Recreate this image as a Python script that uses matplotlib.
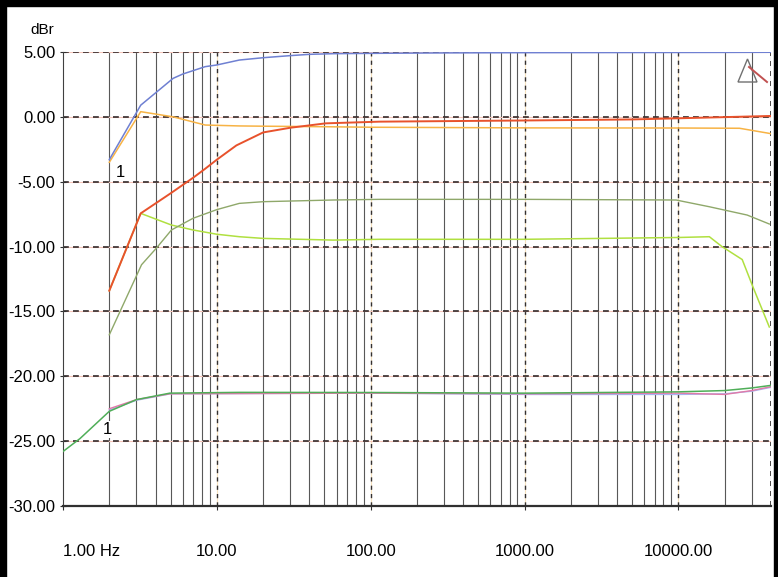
import matplotlib
matplotlib.use("Agg")
import matplotlib.pyplot as plt
from matplotlib.patches import Rectangle, Polygon
from matplotlib.lines import Line2D

plt.rcParams['font.family'] = ['Liberation Sans', 'DejaVu Sans']

# ---- data ----
blue_f = [2, 3.2, 5.2, 6, 8.4, 10, 14, 20, 30, 40, 57, 114, 300, 1000, 5000, 20000, 40000]
blue_db = [-3.3, 0.9, 2.97, 3.3, 3.87, 4.0, 4.38, 4.56, 4.72, 4.82, 4.87, 4.9, 4.93, 4.95, 4.96, 4.97, 4.98]

yellow_f = [2, 3.2, 5.2, 8.4, 14, 20, 50, 100, 1000, 10000, 25000, 38000, 40000]
yellow_db = [-3.5, 0.4, 0.0, -0.63, -0.7, -0.72, -0.76, -0.8, -0.85, -0.86, -0.88, -1.25, -1.3]

red_f = [2, 3.2, 5, 7, 8.4, 10, 13.4, 20, 30, 51, 114, 1000, 5000, 10000, 20000, 40000]
red_db = [-13.4, -7.44, -5.9, -4.7, -4.0, -3.3, -2.2, -1.2, -0.84, -0.5, -0.37, -0.28, -0.2, -0.11, -0.02, 0.07]

lgreen_f = [2, 3.2, 5.07, 7, 10, 14, 20, 57, 114, 1000, 10000, 15900, 19200, 26000, 30500, 39000]
lgreen_db = [-13.4, -7.44, -8.34, -8.72, -9.05, -9.24, -9.37, -9.5, -9.44, -9.44, -9.3, -9.24, -10.0, -11.0, -13.1, -16.2]

olive_f = [2, 3.24, 4.06, 5.07, 7, 10, 14, 20, 57, 114, 1000, 9660, 15900, 28000, 39000]
olive_db = [-16.8, -11.4, -10.1, -8.72, -7.82, -7.15, -6.67, -6.54, -6.41, -6.36, -6.36, -6.41, -6.93, -7.57, -8.26]

bgreen_f = [1, 1.29, 2, 3, 4.95, 14, 100, 1000, 10000, 20000, 30000, 40000]
bgreen_db = [-25.8, -24.8, -22.7, -21.8, -21.3, -21.24, -21.25, -21.3, -21.2, -21.1, -20.9, -20.7]

pink_f = [2, 3, 4.95, 100, 1000, 10000, 20000, 30000, 40000]
pink_db = [-22.5, -21.8, -21.35, -21.3, -21.35, -21.3, -21.4, -21.1, -20.8]

lblue_f = [2, 3, 5, 100, 1000, 10000, 20000, 30000, 40000]
lblue_db = [-22.6, -21.85, -21.35, -21.3, -21.4, -21.4, -21.35, -21.15, -20.85]

x_lim = [1, 40000]
y_lim = [-30, 5]
y_ticks = [5, 0, -5, -10, -15, -20, -25, -30]
x_ticks = [1, 10, 100, 1000, 10000]
x_labels = ['1.00 Hz', '10.00', '100.00', '1000.00', '10000.00']
minor_ticks = [m * 10 ** d for d in range(0, 5) for m in range(2, 10) if m * 10 ** d <= 40000]

# ---- figure ----
W, H = 778, 577
fig = plt.figure(figsize=(W / 100, H / 100), dpi=100, facecolor='white')
ax = fig.add_axes([63 / W, (H - 506) / H, 708 / W, 454 / H])
ax.set_xscale('log')
ax.set_xlim(x_lim)
ax.set_ylim(y_lim)

# grid: decades dashed, 2..9 solid thin, dB lines dashed
for f in minor_ticks:
    ax.axvline(f, color='#585858', lw=0.8, zorder=1)
for f in x_ticks[1:]:
    ax.axvline(f, color='#f6e2c0', lw=0.8, zorder=1)
    ax.axvline(f, color='#333030', lw=1.0, ls=(0, (3, 3)), zorder=1)
ax.axvline(x_lim[1], color='#333030', lw=1.2, ls=(0, (3, 3)), zorder=1)
for y in y_ticks[:-1]:
    ax.axhline(y, color='#f4c4b8', lw=0.8, zorder=1)
    ax.axhline(y, color='#332a2a', lw=1.2, ls=(0, (3.5, 2.5)), zorder=1)

# curves
ax.plot(lgreen_f, lgreen_db, color='#b0e040', lw=1.1, zorder=3)
ax.plot(olive_f, olive_db, color='#8fa86a', lw=1.0, zorder=3)
ax.plot(yellow_f, yellow_db, color='#f7b345', lw=1.1, zorder=3)
ax.plot(red_f, red_db, color='#e8522c', lw=1.4, zorder=4)
ax.plot(blue_f, blue_db, color='#6f80d2', lw=1.1, zorder=4)
ax.plot(lblue_f, lblue_db, color='#a8b4f0', lw=1.0, zorder=3)
ax.plot(pink_f, pink_db, color='#e07aa8', lw=1.0, zorder=3)
ax.plot(bgreen_f, bgreen_db, color='#4fae58', lw=1.1, zorder=4)

# cursor markers
ax.text(2.2, -4.3, '1', fontsize=12, ha='left', va='center', zorder=5,
        bbox=dict(facecolor='white', edgecolor='none', pad=0.5))
ax.text(1.82, -24.1, '1', fontsize=12, ha='left', va='center', zorder=5,
        bbox=dict(facecolor='white', edgecolor='none', pad=0.5))

# spines
for s in ['top', 'right']:
    ax.spines[s].set_visible(False)
ax.spines['left'].set_color('#404040')
ax.spines['bottom'].set_color('#303030')
ax.spines['bottom'].set_linewidth(1.6)

ax.set_yticks(y_ticks)
ax.set_yticklabels(['%.2f' % v for v in y_ticks], fontsize=12)
ax.set_xticks(x_ticks)
ax.set_xticklabels(x_labels, fontsize=12)
ax.set_xticks([], minor=True)
ax.tick_params(axis='y', direction='inout', length=5, pad=3, color='#303030')
ax.tick_params(axis='x', direction='out', length=3, pad=24, color='#303030')
ax.get_xticklabels()[0].set_ha('left')

fig.text(42 / W, 1 - 30 / H, 'dBr', fontsize=11, ha='center', va='center')

# little triangle icon in the corner
def axf(px, py):
    return ((px - 63) / 708, (506 - py) / 454)

ax.add_patch(Polygon([axf(738, 82), axf(757, 82), axf(747.5, 59)], closed=True,
                     fill=False, edgecolor='#707070', lw=1.0,
                     transform=ax.transAxes, zorder=6, clip_on=False))
ax.add_line(Line2D([axf(749, 67)[0], axf(767, 82)[0]], [axf(749, 67)[1], axf(767, 82)[1]],
                   color='#c05050', lw=1.4, transform=ax.transAxes, zorder=6, clip_on=False))

# black scan border
fig.patches.append(Rectangle((0, 1 - 6 / H), 1, 6 / H, transform=fig.transFigure, color='black'))
fig.patches.append(Rectangle((0, 0), 6 / W, 1, transform=fig.transFigure, color='black'))
fig.patches.append(Rectangle((1 - 4 / W, 0), 4 / W, 1, transform=fig.transFigure, color='black'))

fig.savefig('out.png', dpi=100, facecolor='white')
